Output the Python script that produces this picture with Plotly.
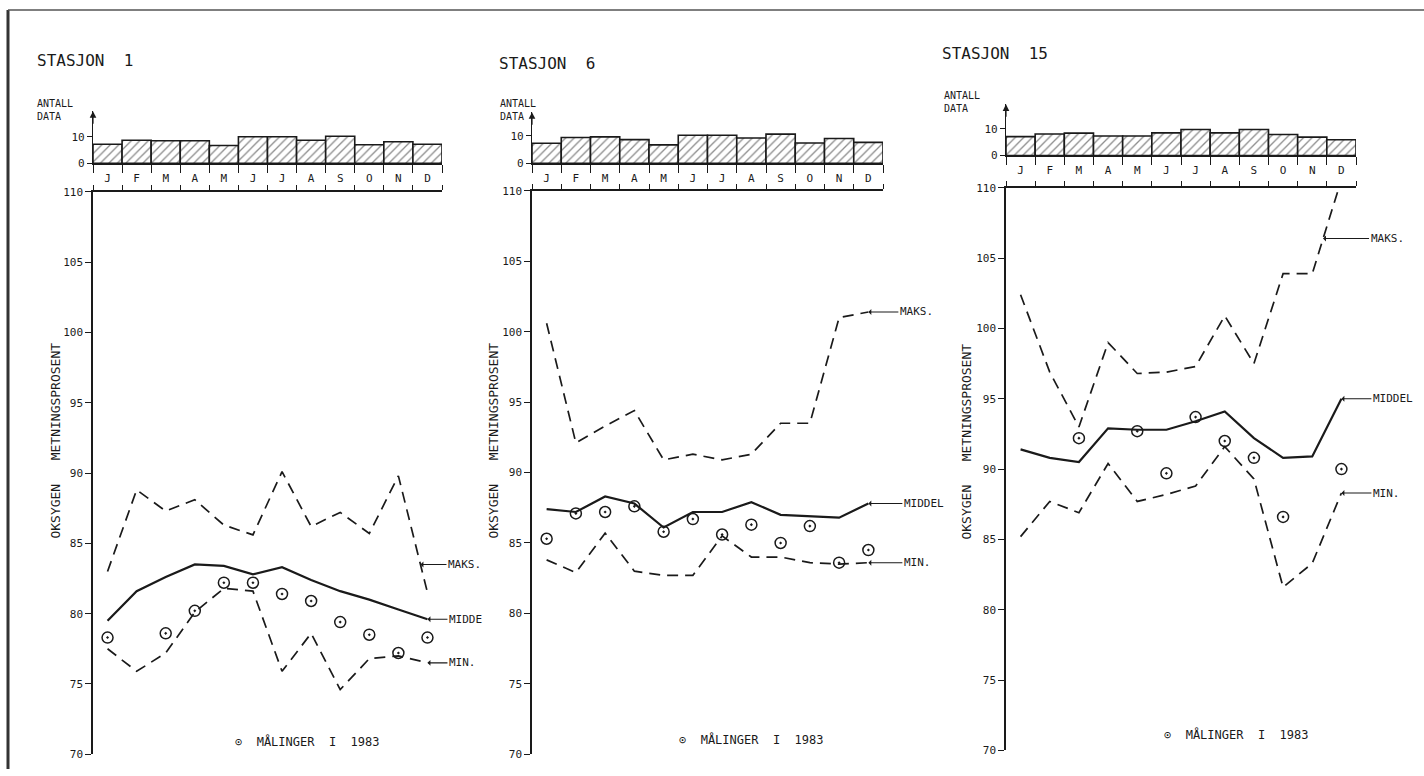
import plotly.graph_objects as go

W, H = 1424, 776

months = ["J", "F", "M", "A", "M", "J", "J", "A", "S", "O", "N", "D"]

# Antall data (number of observations per month)
s1_count = [7.2, 8.7, 8.5, 8.5, 6.7, 10.0, 10.0, 8.7, 10.2, 7.0, 8.1, 7.2]
s6_count = [7.3, 9.4, 9.6, 8.6, 6.7, 10.2, 10.2, 9.2, 10.6, 7.4, 9.0, 7.6]
s15_count = [7.1, 8.1, 8.4, 7.3, 7.3, 8.5, 9.8, 8.5, 9.8, 7.9, 6.9, 5.9]

# Stasjon 1
s1_maks = [83.0, 88.8, 87.3, 88.1, 86.3, 85.6, 90.1, 86.2, 87.2, 85.7, 89.8, 81.5]
s1_middel = [79.5, 81.6, 82.6, 83.5, 83.4, 82.8, 83.3, 82.4, 81.6, 81.0, 80.3, 79.6]
s1_min = [77.5, 75.9, 77.2, 80.1, 81.8, 81.6, 75.9, 78.6, 74.6, 76.8, 77.0, 76.5]
s1_obs = [78.3, None, 78.6, 80.2, 82.2, 82.2, 81.4, 80.9, 79.4, 78.5, 77.2, 78.3]

# Stasjon 6
s6_maks = [100.6, 92.1, 93.3, 94.4, 90.9, 91.3, 90.9, 91.3, 93.5, 93.5, 101.0, 101.4]
s6_middel = [87.4, 87.2, 88.3, 87.8, 86.1, 87.2, 87.2, 87.9, 87.0, 86.9, 86.8, 87.8]
s6_min = [83.8, 82.9, 85.7, 83.0, 82.7, 82.7, 85.5, 84.0, 84.0, 83.6, 83.5, 83.6]
s6_obs = [85.3, 87.1, 87.2, 87.6, 85.8, 86.7, 85.6, 86.3, 85.0, 86.2, 83.6, 84.5]

# Stasjon 15
s15_maks = [102.4, 96.9, 93.0, 99.0, 96.8, 96.9, 97.3, 100.9, 97.5, 103.9, 103.9, 110.6]
s15_middel = [91.4, 90.8, 90.5, 92.9, 92.8, 92.8, 93.4, 94.1, 92.2, 90.8, 90.9, 95.0]
s15_min = [85.2, 87.7, 86.9, 90.4, 87.7, 88.2, 88.8, 91.6, 89.3, 81.6, 83.3, 88.3]
s15_obs = [None, None, 92.2, None, 92.7, 89.7, 93.7, 92.0, 90.8, 86.6, None, 90.0]

FONT = "DejaVu Sans Mono"
INK = "#1a1a1a"


def fx(p):
    return p / W


def fy(p):
    return 1 - p / H


panels = [
    dict(title="STASJON  1", counts=s1_count, maks=s1_maks, middel=s1_middel, minv=s1_min, obs=s1_obs,
         x0=93, x1=442, bar0=160, bar10=133, bartop=107, y110=189, y70=761,
         title_xy=(35, 55), antall_xy=(35, 106), ylab_xy=(56, 442), leg_xy=(307, 748),
         labels=[("MAKS.", 11.26, 83.5, 26), ("MIDDE", 11.5, 79.6, 20), ("MIN.", 11.5, 76.5, 20)]),
    dict(title="STASJON  6", counts=s6_count, maks=s6_maks, middel=s6_middel, minv=s6_min, obs=s6_obs,
         x0=532, x1=883, bar0=160, bar10=132, bartop=108, y110=188, y70=761,
         title_xy=(497, 58), antall_xy=(498, 106), ylab_xy=(494, 442), leg_xy=(752, 746),
         labels=[("MAKS.", 11.5, 101.4, 30), ("MIDDEL", 11.5, 87.8, 34), ("MIN.", 11.5, 83.6, 34)]),
    dict(title="STASJON  15", counts=s15_count, maks=s15_maks, middel=s15_middel, minv=s15_min, obs=s15_obs,
         x0=1006, x1=1356, bar0=152, bar10=125, bartop=100, y110=185, y70=757,
         title_xy=(940, 48), antall_xy=(942, 98), ylab_xy=(967, 443), leg_xy=(1236, 741),
         labels=[("MAKS.", 10.87, 106.4, 46), ("MIDDEL", 11.5, 95.0, 30), ("MIN.", 11.5, 88.3, 30)]),
]

fig = go.Figure()
layout = dict(
    width=W, height=H, autosize=False,
    margin=dict(l=0, r=0, t=0, b=0),
    paper_bgcolor="white", plot_bgcolor="rgba(0,0,0,0)",
    showlegend=False,
    font=dict(family=FONT, color=INK),
)
annotations = []
shapes = []

xc = [i + 0.5 for i in range(12)]

for k, p in enumerate(panels):
    bi = 2 * k + 1
    mi = 2 * k + 2
    bx, by = ("x" if bi == 1 else f"x{bi}"), ("y" if bi == 1 else f"y{bi}")
    mx, my = f"x{mi}", f"y{mi}"
    R = 10 * (p["bar0"] - p["bartop"]) / (p["bar0"] - p["bar10"])

    # histogram of number of data
    fig.add_trace(go.Bar(
        x=xc, y=p["counts"], width=1.0, xaxis=bx, yaxis=by,
        marker=dict(color="white", line=dict(color=INK, width=1.6),
                    pattern=dict(shape="/", fgcolor=INK, bgcolor="white", size=6, solidity=0.22)),
        hoverinfo="skip",
    ))
    xa_b = dict(domain=[fx(p["x0"]), fx(p["x1"])], range=[0, 12], anchor=by,
                showline=True, linecolor=INK, linewidth=1.5, showgrid=False, zeroline=False,
                tickmode="array", tickvals=xc, ticktext=months, ticks="", ticklen=0,
                tickfont=dict(size=11, family=FONT, color=INK), ticklabelstandoff=4,
                minor=dict(tickmode="array", tickvals=list(range(13)), ticks="outside", ticklen=8,
                           tickcolor=INK, tickwidth=1.3),
                fixedrange=True)
    ya_b = dict(domain=[fy(p["bar0"]), fy(p["bartop"])], range=[0, R], anchor=bx,
                showline=True, linecolor=INK, linewidth=1.3, showgrid=False, zeroline=False,
                tickmode="array", tickvals=[0, 10], ticks="outside", ticklen=5, tickcolor=INK,
                tickfont=dict(size=11, family=FONT, color=INK), fixedrange=True)
    layout["xaxis" if bi == 1 else f"xaxis{bi}"] = xa_b
    layout["yaxis" if bi == 1 else f"yaxis{bi}"] = ya_b
    annotations.append(dict(x=0, y=R, xref=bx, yref=by, ax=0, ay=14, text="", showarrow=True,
                            arrowhead=2, arrowsize=1.1, arrowwidth=1.2, arrowcolor=INK))

    # main chart
    fig.add_trace(go.Scatter(x=xc, y=p["maks"], mode="lines", xaxis=mx, yaxis=my,
                             line=dict(color=INK, width=1.7, dash="11px,7px"), hoverinfo="skip"))
    fig.add_trace(go.Scatter(x=xc, y=p["middel"], mode="lines", xaxis=mx, yaxis=my,
                             line=dict(color=INK, width=2.2), hoverinfo="skip"))
    fig.add_trace(go.Scatter(x=xc, y=p["minv"], mode="lines", xaxis=mx, yaxis=my,
                             line=dict(color=INK, width=1.7, dash="11px,7px"), hoverinfo="skip"))
    fig.add_trace(go.Scatter(x=xc, y=p["obs"], mode="markers", xaxis=mx, yaxis=my,
                             marker=dict(symbol="circle-open-dot", size=11, color=INK,
                                         line=dict(color=INK, width=1.5)), hoverinfo="skip"))
    layout[f"xaxis{mi}"] = dict(domain=[fx(p["x0"]), fx(p["x1"])], range=[0, 12], anchor=my,
                                side="top", showline=True, linecolor=INK, linewidth=1.5,
                                showgrid=False, zeroline=False, tickmode="array",
                                tickvals=list(range(13)), ticks="outside", ticklen=5,
                                tickcolor=INK, tickwidth=1.3, showticklabels=False, fixedrange=True)
    layout[f"yaxis{mi}"] = dict(domain=[fy(p["y70"]), fy(p["y110"])], range=[70, 110], anchor=mx,
                                showline=True, linecolor=INK, linewidth=1.5, showgrid=False,
                                zeroline=False, tickmode="array", tickvals=list(range(70, 111, 5)),
                                ticks="outside", ticklen=6, tickcolor=INK, tickwidth=1.3,
                                tickfont=dict(size=11, family=FONT, color=INK), fixedrange=True)

    # line labels
    for txt, hx, hy, dx in p["labels"]:
        annotations.append(dict(x=hx, y=hy, xref=mx, yref=my, ax=dx, ay=0, text=txt,
                                showarrow=True, arrowhead=1, arrowsize=0.9, arrowwidth=1.1,
                                arrowcolor=INK, xanchor="left",
                                font=dict(size=11, family=FONT, color=INK)))

    # texts
    annotations.append(dict(x=fx(p["title_xy"][0]), y=fy(p["title_xy"][1]), xref="paper", yref="paper",
                            text=p["title"], showarrow=False, xanchor="left", yanchor="middle",
                            font=dict(size=16, family=FONT, color=INK)))
    annotations.append(dict(x=fx(p["antall_xy"][0]), y=fy(p["antall_xy"][1]), xref="paper", yref="paper",
                            text="ANTALL<br>DATA", showarrow=False, xanchor="left", yanchor="middle",
                            align="left", font=dict(size=10, family=FONT, color=INK)))
    annotations.append(dict(x=fx(p["ylab_xy"][0]), y=fy(p["ylab_xy"][1]), xref="paper", yref="paper",
                            text="OKSYGEN   METNINGSPROSENT", textangle=-90, showarrow=False,
                            xanchor="center", yanchor="middle",
                            font=dict(size=13, family=FONT, color=INK)))
    annotations.append(dict(x=fx(p["leg_xy"][0]), y=fy(p["leg_xy"][1]), xref="paper", yref="paper",
                            text="⊙  MÅLINGER  I  1983", showarrow=False, xanchor="center",
                            yanchor="middle", font=dict(size=12, family=FONT, color=INK)))

# outer frame
shapes.append(dict(type="line", xref="paper", yref="paper", x0=fx(8), x1=fx(8), y0=0, y1=fy(4),
                   line=dict(color="#333333", width=3)))
shapes.append(dict(type="line", xref="paper", yref="paper", x0=fx(8), x1=1, y0=fy(4), y1=fy(4),
                   line=dict(color="#555555", width=1.5)))

layout["annotations"] = annotations
layout["shapes"] = shapes
fig.update_layout(**layout)
fig.write_html("out.html", config={"displayModeBar": False},
               post_script="document.body.style.margin='0';document.body.style.overflow='hidden';")
